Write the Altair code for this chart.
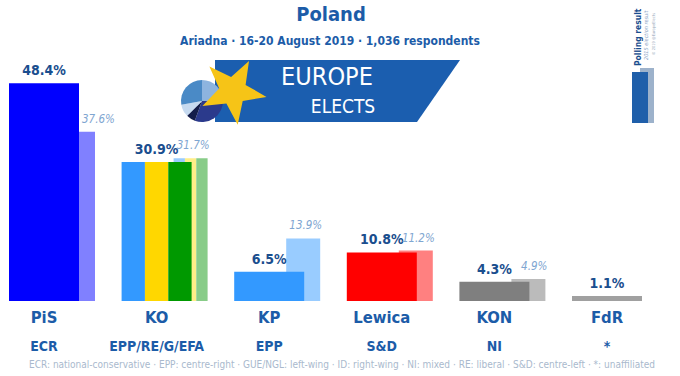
import math
import altair as alt
import pandas as pd

# ---------------- data ----------------
parties = ["PiS", "KO", "KP", "Lewica", "KON", "FdR"]
groups = ["ECR", "EPP/RE/G/EFA", "EPP", "S&D", "NI", "*"]
poll = [48.4, 30.9, 6.5, 10.8, 4.3, 1.1]
election = [37.6, 31.7, 13.9, 11.2, 4.9, None]
poll_colors = [["#0000FF"], ["#3399FF", "#FFD700", "#009900"], ["#3399FF"],
               ["#FF0000"], ["#7F7F7F"], ["#A0A0A0"]]
election_colors = [["#8080FF"], ["#99CCFF", "#FFEE88", "#88CC88"], ["#99CCFF"],
                   ["#FF8080"], ["#BBBBBB"], []]

title_text = "Poland"
subtitle_text = "Ariadna · 16-20 August 2019 · 1,036 respondents"
footnote_text = ("ECR: national-conservative · EPP: centre-right · GUE/NGL: left-wing · "
                 "ID: right-wing · NI: mixed · RE: liberal · S&D: centre-left · *: unaffiliated")

pie_values = [90, 110, 25, 35, 100]
pie_colors = ["#8DB4DF", "#2B3A8C", "#141D4A", "#C6DAF0", "#4A8AC6"]

# ---------------- layout ----------------
W, H = 680, 376
STEP = 112.6
LEFT = 9
MAIN_W = 70
OLD_A, OLD_B = 52, 86
Y0, Y1 = -16.667, 66.889      # value domain -> baseline at y=301

FONT = "Liberation Sans Narrow, DejaVu Sans Condensed, Roboto, sans-serif"
DARK = "#1A4E8E"
BLUE = "#1C5CA8"

main_rows, old_rows, lab_main, lab_old, names = [], [], [], [], []
for i, p in enumerate(parties):
    x0 = LEFT + i * STEP
    for val, cols, a, b, store in [
        (election[i], election_colors[i], x0 + OLD_A, x0 + OLD_B, old_rows),
        (poll[i], poll_colors[i], x0, x0 + MAIN_W, main_rows),
    ]:
        if val is None:
            continue
        w = (b - a) / len(cols)
        for j, c in enumerate(cols):
            store.append(dict(party=p, x=a + j * w, x2=a + (j + 1) * w,
                              value=val, color=c))
    lab_main.append(dict(cx=x0 + MAIN_W / 2, value=poll[i], text=f"{poll[i]}%"))
    names.append(dict(cx=x0 + MAIN_W / 2, party=p, group=groups[i]))
    if election[i] is not None:
        if election[i] >= poll[i]:
            lab_old.append(dict(ax=x0 + OLD_B + 2, value=election[i],
                                text=f"{election[i]}%", side="right"))
        else:
            lab_old.append(dict(ax=x0 + MAIN_W + 3, value=election[i],
                                text=f"{election[i]}%", side="left"))

xs = alt.Scale(domain=[0, W], nice=False, zero=False)
ys = alt.Scale(domain=[Y0, Y1], nice=False, zero=False)


def bars(rows):
    return alt.Chart(pd.DataFrame(rows)).mark_rect().encode(
        x=alt.X("x:Q", scale=xs, axis=None),
        x2="x2:Q",
        y=alt.Y("value:Q", scale=ys, axis=None),
        y2=alt.datum(0),
        color=alt.Color("color:N", scale=None),
    )


old_bars = bars(old_rows)
main_bars = bars(main_rows)

main_text = alt.Chart(pd.DataFrame(lab_main)).mark_text(
    font=FONT, fontSize=14, fontWeight="bold", color=DARK, dy=-8,
    baseline="alphabetic", align="center"
).encode(x=alt.X("cx:Q", scale=xs, axis=None),
         y=alt.Y("value:Q", scale=ys, axis=None), text="text:N")

old_df = pd.DataFrame(lab_old)


def old_labels(side):
    return alt.Chart(old_df).transform_filter(
        alt.datum.side == side
    ).mark_text(
        font=FONT, fontSize=11.5, fontStyle="italic", color="#7FA6D1", dy=-9,
        baseline="alphabetic", align=side
    ).encode(x=alt.X("ax:Q", scale=xs, axis=None),
             y=alt.Y("value:Q", scale=ys, axis=None), text="text:N")


old_text_r = old_labels("right")
old_text_l = old_labels("left")

party_text = alt.Chart(pd.DataFrame(names)).mark_text(
    font=FONT, fontSize=16.5, fontWeight="bold", color=BLUE, baseline="middle"
).encode(x=alt.X("cx:Q", scale=xs, axis=None), y=alt.value(318), text="party:N")

group_text = alt.Chart(pd.DataFrame(names)).mark_text(
    font=FONT, fontSize=14, fontWeight="bold", color=BLUE, baseline="middle"
).encode(x=alt.X("cx:Q", scale=xs, axis=None), y=alt.value(347), text="group:N")

one = alt.Data(values=[{"k": 1}])


def txt(text, x, y, **kw):
    return alt.Chart(one).mark_text(text=text, font=FONT, **kw).encode(
        x=alt.value(x), y=alt.value(y))


title = txt(title_text, 331, 15, fontSize=20, fontWeight="bold", color=BLUE,
            baseline="middle")
subtitle = txt(subtitle_text, 330, 41, fontSize=12, fontWeight="bold", color=BLUE,
               baseline="middle")
footnote = txt(footnote_text, 342, 365, fontSize=10, color="#A9B9CD",
               baseline="middle")

# logo: banner, pie, star, words
banner = alt.Chart(one).mark_point(
    shape="M215,60L460,60L417,122L215,122Z", size=4, filled=True,
    color="#1B5EAF", opacity=1, strokeWidth=0
).encode(x=alt.value(0), y=alt.value(0))

pie_df = pd.DataFrame({"v": pie_values, "c": pie_colors,
                       "k": list(range(len(pie_values)))})
pie = alt.Chart(pie_df).mark_arc(radius=21).encode(
    theta=alt.Theta("v:Q", stack=True),
    color=alt.Color("c:N", scale=None),
    order=alt.Order("k:Q"),
    x=alt.value(202), y=alt.value(101),
)

cx, cy, R, r, rot = 233, 91, 34, 14, 28
pts = []
for k in range(10):
    rad = R if k % 2 == 0 else r
    ang = math.radians(rot + k * 36)
    pts.append((cx + rad * math.sin(ang), cy - rad * math.cos(ang)))
star_path = "M" + "L".join(f"{px:.1f},{py:.1f}" for px, py in pts) + "Z"
star = alt.Chart(one).mark_point(
    shape=star_path, size=4, filled=True, color="#F6C417", opacity=1, strokeWidth=0
).encode(x=alt.value(0), y=alt.value(0))

europe = txt("EUROPE", 327, 77, fontSize=25, color="white", baseline="middle")
elects = txt("ELECTS", 343, 107, fontSize=19, color="white", baseline="middle")

# top-right legend
leg_gray = alt.Chart(one).mark_rect(color="#9DB2CB").encode(
    x=alt.value(640), x2=alt.value(654), y=alt.value(68), y2=alt.value(123))
leg_blue = alt.Chart(one).mark_rect(color="#1F5FAA").encode(
    x=alt.value(632), x2=alt.value(648), y=alt.value(72), y2=alt.value(123))
leg_t1 = txt("Polling result", 638, 66, fontSize=8.5, fontWeight="bold",
             color="#1A4E8E", angle=270, align="left", baseline="middle")
leg_t2 = txt("2015 election result", 646, 60, fontSize=5.5, fontStyle="italic",
             color="#8AA4C4", angle=270, align="left", baseline="middle")
leg_t3 = txt("© 2019 @EuropeElects", 654, 55, fontSize=4, color="#9AAABB",
             angle=270, align="left", baseline="middle")

chart = alt.layer(
    banner, pie, star, europe, elects,
    old_bars, main_bars, main_text, old_text_r, old_text_l,
    party_text, group_text,
    title, subtitle, footnote,
    leg_gray, leg_blue, leg_t1, leg_t2, leg_t3,
).properties(
    width=W, height=H, padding=0, background="white",
    autosize=alt.AutoSizeParams(type="none"),
).configure_view(stroke=None)

chart.save("out.html", embed_options={"renderer": "svg", "actions": False})
